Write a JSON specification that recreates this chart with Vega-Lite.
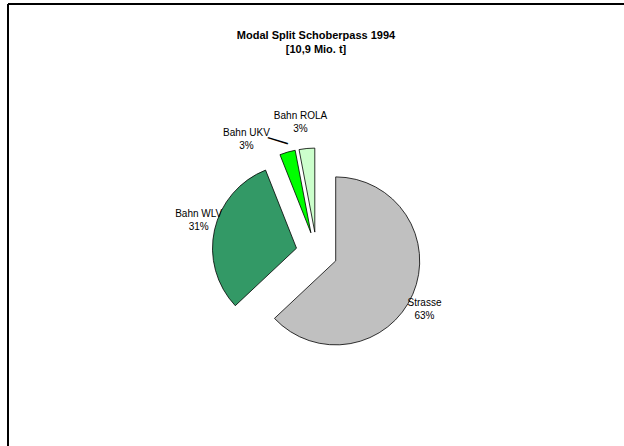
{
  "$schema": "https://vega.github.io/schema/vega-lite/v6.json",
  "width": 616,
  "height": 442,
  "autosize": {"type": "none"},
  "padding": {"left": 8, "top": 4, "right": 0, "bottom": 0},
  "background": "white",
  "config": {
    "view": {"stroke": null},
    "font": "Liberation Sans",
    "axis": {"domainColor": "black", "domainWidth": 2, "ticks": false, "labels": false, "grid": false, "title": null, "translate": 0, "offset": 0}
  },
  "title": {
    "text": ["Modal Split Schoberpass 1994", "[10,9 Mio. t]"],
    "font": "Liberation Sans",
    "fontSize": 11,
    "fontWeight": "bold",
    "anchor": "middle",
    "baseline": "top",
    "lineHeight": 14,
    "dy": 58,
    "color": "black"
  },
  "data": {
    "values": [
      {"category": "Strasse", "value": 63, "order": 1, "label": "Strasse\n63%"},
      {"category": "Bahn WLV", "value": 31, "order": 2, "label": "Bahn WLV\n31%"},
      {"category": "Bahn UKV", "value": 3, "order": 3, "label": "Bahn UKV\n3%"},
      {"category": "Bahn ROLA", "value": 3, "order": 4, "label": "Bahn ROLA\n3%"}
    ]
  },
  "transform": [
    {"stack": "value", "groupby": [], "sort": [{"field": "order", "order": "ascending"}], "as": ["v0", "v1"]}
  ],
  "layer": [
    {
      "mark": {"type": "point", "opacity": 0},
      "encoding": {
        "x": {"field": "value", "type": "quantitative", "axis": {"orient": "top"}},
        "y": {"field": "order", "type": "quantitative", "axis": {"orient": "left"}}
      }
    },
    {
      "transform": [{"filter": "datum.category === 'Strasse'"}],
      "mark": {"type": "arc", "outerRadius": 84, "stroke": "black", "strokeWidth": 0.8, "xOffset": 19.7, "yOffset": 35.9},
      "encoding": {
        "theta": {"field": "v0", "type": "quantitative", "stack": null, "scale": {"domain": [0, 100]}},
        "theta2": {"field": "v1"},
        "color": {"field": "category", "type": "nominal", "scale": {"domain": ["Strasse", "Bahn WLV", "Bahn UKV", "Bahn ROLA"], "range": ["#c0c0c0", "#339966", "#00ff00", "#ccffcc"]}, "legend": null}
      }
    },
    {
      "transform": [{"filter": "datum.category === 'Bahn WLV'"}],
      "mark": {"type": "arc", "outerRadius": 84, "stroke": "black", "strokeWidth": 0.8, "xOffset": -19.5, "yOffset": 23.2},
      "encoding": {
        "theta": {"field": "v0", "type": "quantitative", "stack": null, "scale": {"domain": [0, 100]}},
        "theta2": {"field": "v1"},
        "color": {"field": "category", "type": "nominal", "legend": null}
      }
    },
    {
      "transform": [{"filter": "datum.category === 'Bahn UKV'"}],
      "mark": {"type": "arc", "outerRadius": 84, "stroke": "black", "strokeWidth": 0.8, "xOffset": -5.1, "yOffset": 7.8},
      "encoding": {
        "theta": {"field": "v0", "type": "quantitative", "stack": null, "scale": {"domain": [0, 100]}},
        "theta2": {"field": "v1"},
        "color": {"field": "category", "type": "nominal", "legend": null}
      }
    },
    {
      "transform": [{"filter": "datum.category === 'Bahn ROLA'"}],
      "mark": {"type": "arc", "outerRadius": 84, "stroke": "black", "strokeWidth": 0.8, "xOffset": -1.2, "yOffset": 7.1},
      "encoding": {
        "theta": {"field": "v0", "type": "quantitative", "stack": null, "scale": {"domain": [0, 100]}},
        "theta2": {"field": "v1"},
        "color": {"field": "category", "type": "nominal", "legend": null}
      }
    },
    {
      "mark": {"type": "text", "radius": 124, "fontSize": 10, "lineBreak": "\n", "lineHeight": 13, "xOffset": 0.7, "yOffset": 27.7, "dx": -6, "dy": 1.2, "color": "black"},
      "encoding": {
        "theta": {"field": "value", "type": "quantitative", "stack": true},
        "order": {"field": "order"},
        "detail": {"field": "category"},
        "text": {"condition": {"test": "datum.category === 'Strasse'", "field": "label"}, "value": ""}
      }
    },
    {
      "mark": {"type": "text", "radius": 124, "fontSize": 10, "lineBreak": "\n", "lineHeight": 13, "xOffset": 0.7, "yOffset": 27.7, "dx": 3, "dy": -11.5, "color": "black"},
      "encoding": {
        "theta": {"field": "value", "type": "quantitative", "stack": true},
        "order": {"field": "order"},
        "detail": {"field": "category"},
        "text": {"condition": {"test": "datum.category === 'Bahn WLV'", "field": "label"}, "value": ""}
      }
    },
    {
      "mark": {"type": "text", "radius": 134, "thetaOffset": -0.269, "fontSize": 10, "lineBreak": "\n", "lineHeight": 13, "xOffset": 0.7, "yOffset": 27.7, "dy": -5.5, "color": "black"},
      "encoding": {
        "theta": {"field": "value", "type": "quantitative", "stack": true},
        "order": {"field": "order"},
        "detail": {"field": "category"},
        "text": {"condition": {"test": "datum.category === 'Bahn UKV'", "field": "label"}, "value": ""}
      }
    },
    {
      "mark": {"type": "text", "radius": 124, "fontSize": 10, "lineBreak": "\n", "lineHeight": 13, "xOffset": 0.7, "yOffset": 27.7, "dx": -4.5, "dy": -13, "color": "black"},
      "encoding": {
        "theta": {"field": "value", "type": "quantitative", "stack": true},
        "order": {"field": "order"},
        "detail": {"field": "category"},
        "text": {"condition": {"test": "datum.category === 'Bahn ROLA'", "field": "label"}, "value": ""}
      }
    },
    {
      "mark": {"type": "text", "radius": 119, "thetaOffset": -0.047, "angle": 17, "fontSize": 21, "xOffset": 0.7, "yOffset": 27.7, "color": "black"},
      "encoding": {
        "theta": {"field": "value", "type": "quantitative", "stack": true},
        "order": {"field": "order"},
        "detail": {"field": "category"},
        "text": {"condition": {"test": "datum.category === 'Bahn UKV'", "value": "—"}, "value": ""}
      }
    }
  ]
}
